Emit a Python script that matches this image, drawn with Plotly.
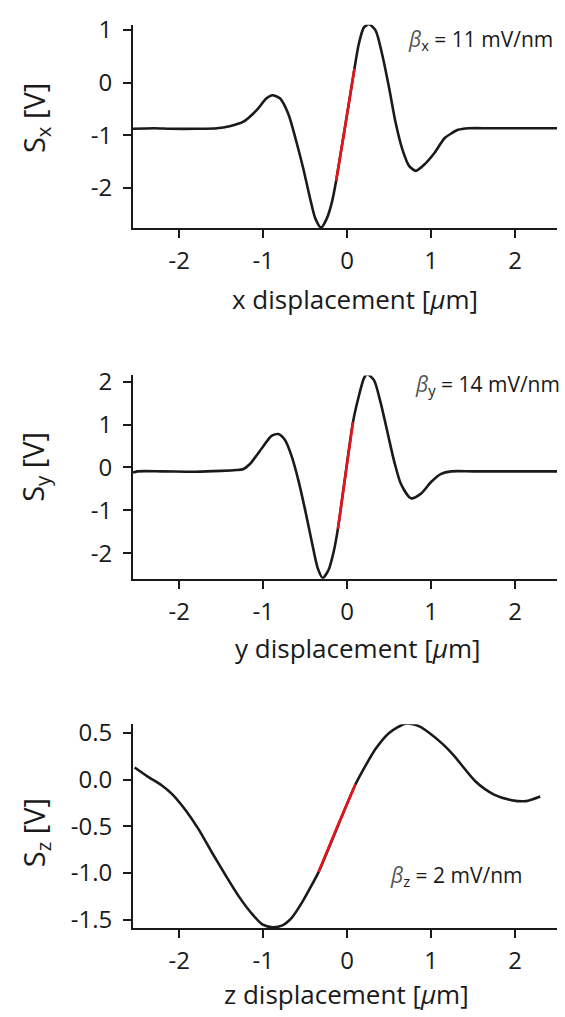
import plotly.graph_objects as go

# ---- data ----
x1 = [-2.55, -2.3, -2.1, -1.8, -1.55, -1.40, -1.24, -1.08, -0.96, -0.89, -0.80, -0.70, -0.60, -0.52, -0.44,
      -0.38, -0.31, -0.24, -0.18, -0.13, 0.088, 0.14, 0.20, 0.26, 0.34, 0.42, 0.50, 0.58, 0.66, 0.74, 0.82,
      0.92, 1.04, 1.16, 1.24, 1.32, 1.45, 1.7, 2.0, 2.5]
y1 = [-0.88, -0.87, -0.88, -0.88, -0.87, -0.83, -0.75, -0.53, -0.30, -0.24, -0.30, -0.60, -1.15, -1.65, -2.21,
      -2.58, -2.76, -2.58, -2.27, -1.87, 0.27, 0.74, 1.05, 1.11, 0.99, 0.52, -0.10, -0.78, -1.28, -1.59, -1.68,
      -1.56, -1.34, -1.06, -0.97, -0.90, -0.87, -0.87, -0.87, -0.87]
x1_red = [-0.13, -0.02, 0.088]
y1_red = [-1.87, -0.80, 0.27]

x2 = [-2.55, -2.5, -2.2, -1.8, -1.5, -1.32, -1.24, -1.16, -1.0, -0.90, -0.82, -0.74, -0.66, -0.58, -0.50,
      -0.42, -0.35, -0.29, -0.22, -0.16, -0.11, 0.07, 0.14, 0.20, 0.24, 0.32, 0.40, 0.48, 0.56, 0.64, 0.76,
      0.88, 1.0, 1.12, 1.24, 1.5, 2.0, 2.5]
y2 = [-0.12, -0.09, -0.09, -0.1, -0.08, -0.06, -0.04, 0.075, 0.49, 0.74, 0.78, 0.64, 0.26, -0.30, -0.99,
      -1.74, -2.35, -2.58, -2.39, -1.97, -1.44, 1.06, 1.67, 2.08, 2.18, 2.04, 1.51, 0.83, 0.15, -0.38, -0.72,
      -0.61, -0.34, -0.15, -0.09, -0.09, -0.09, -0.09]
x2_red = [-0.11, -0.02, 0.07]
y2_red = [-1.44, -0.19, 1.06]

x3 = [-2.53, -2.37, -2.21, -2.09, -1.93, -1.77, -1.61, -1.45, -1.29, -1.13, -1.01, -0.89, -0.77, -0.66,
      -0.54, -0.44, -0.34, 0.10, 0.22, 0.34, 0.50, 0.70, 0.86, 0.98, 1.14, 1.27, 1.53, 1.75, 1.96, 2.13, 2.3]
y3 = [0.13, 0.03, -0.06, -0.15, -0.32, -0.53, -0.78, -1.02, -1.25, -1.44, -1.55, -1.58, -1.56, -1.48,
      -1.32, -1.16, -0.99, -0.05, 0.15, 0.33, 0.50, 0.60, 0.57, 0.50, 0.38, 0.26, -0.02, -0.16, -0.22, -0.23, -0.18]
x3_red = [-0.34, -0.12, 0.10]
y3_red = [-0.99, -0.51, -0.05]

x_ticks = [-2, -1, 0, 1, 2]
x_tick_text = ["-2", "-1", "0", "1", "2"]
y1_ticks = [-2, -1, 0, 1]
y1_tick_text = ["-2", "-1", "0", "1"]
y2_ticks = [-2, -1, 0, 1, 2]
y2_tick_text = ["-2", "-1", "0", "1", "2"]
y3_ticks = [-1.5, -1.0, -0.5, 0.0, 0.5]
y3_tick_text = ["-1.5", "-1.0", "-0.5", "0.0", "0.5"]

x_titles = ["x displacement [<i>μ</i>m]", "y displacement [<i>μ</i>m]", "z displacement [<i>μ</i>m]"]
y_titles = ["S<sub>x</sub> [V]", "S<sub>y</sub> [V]", "S<sub>z</sub> [V]"]
betas = ["<span style='color:#555555'><i>β</i></span><sub>x</sub> = 11 mV/nm",
         "<span style='color:#555555'><i>β</i></span><sub>y</sub> = 14 mV/nm",
         "<span style='color:#555555'><i>β</i></span><sub>z</sub> = 2 mV/nm"]

# ---- figure ----
W, H = 565, 1017
L, R = 133, 8
PW = W - L - R
FONT = "Open Sans"

def px(xp):
    return (xp - L) / PW

def py(yp):
    return 1 - yp / H

fig = go.Figure()
black = "#1a1a1a"
red = "#e8141b"
data = [(x1, y1, x1_red, y1_red), (x2, y2, x2_red, y2_red), (x3, y3, x3_red, y3_red)]
for i, (xx, yy, xr, yr) in enumerate(data):
    s = "" if i == 0 else str(i + 1)
    fig.add_trace(go.Scatter(x=xx, y=yy, mode="lines", line=dict(color=black, width=2.6, shape="spline", smoothing=0.7),
                             xaxis="x" + s, yaxis="y" + s, showlegend=False, hoverinfo="skip"))
    fig.add_trace(go.Scatter(x=xr, y=yr, mode="lines", line=dict(color=red, width=2.6, shape="spline", smoothing=0.7),
                             xaxis="x" + s, yaxis="y" + s, showlegend=False, hoverinfo="skip"))

domains = [(py(220), py(13)), (py(577), py(370)), (py(933), py(725))]
yranges = [[-2.77, 1.1], [-2.6, 2.15], [-1.594, 0.594]]
yticks = [(y1_ticks, y1_tick_text), (y2_ticks, y2_tick_text), (y3_ticks, y3_tick_text)]

axis_common = dict(showline=True, linecolor=black, linewidth=2, ticks="outside", ticklen=8, tickwidth=2,
                   tickcolor=black, showgrid=False, zeroline=False, tickfont=dict(family=FONT, size=24, color=black))
layout = dict(width=W, height=H, margin=dict(l=L, r=R, t=0, b=0), paper_bgcolor="white", plot_bgcolor="white",
              font=dict(family=FONT, color=black), showlegend=False)
for i in range(3):
    s = "" if i == 0 else str(i + 1)
    layout["xaxis" + s] = dict(axis_common, domain=[0, 1], anchor="y" + s, range=[-2.55, 2.5],
                               tickvals=x_ticks, ticktext=x_tick_text, ticklabelstandoff=2)
    layout["yaxis" + s] = dict(axis_common, domain=list(domains[i]), anchor="x" + s, range=yranges[i],
                               tickvals=yticks[i][0], ticktext=yticks[i][1], ticklabelstandoff=6)
fig.update_layout(**layout)

xt_pos = [(355, 292), (358, 647), (346, 1000)]
yt_y = [108, 463, 836]
beta_pos = [(480, 28), (487, 380), (456, 880)]
for i in range(3):
    fig.add_annotation(text=x_titles[i], xref="paper", yref="paper", x=px(xt_pos[i][0]), y=py(xt_pos[i][1]),
                       showarrow=False, xanchor="center", yanchor="middle", font=dict(family=FONT, size=26, color=black))
    fig.add_annotation(text=y_titles[i], xref="paper", yref="paper", x=px(35), y=py(yt_y[i]), textangle=-90,
                       showarrow=False, xanchor="center", yanchor="middle", font=dict(family=FONT, size=29, color=black))
    fig.add_annotation(text=betas[i], xref="paper", yref="paper", x=px(beta_pos[i][0]), y=py(beta_pos[i][1]),
                       showarrow=False, xanchor="center", yanchor="middle", font=dict(family=FONT, size=21, color=black))

fig.write_html("out.html")
